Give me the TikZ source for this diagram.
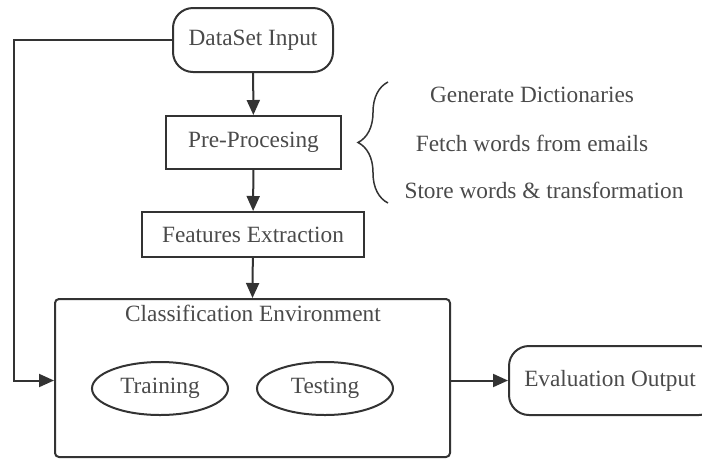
\documentclass[tikz,border=0pt]{standalone}
\usepackage{fontspec}
\setmainfont{Liberation Serif}
\usetikzlibrary{arrows.meta,decorations.pathreplacing,shapes.geometric}
\definecolor{ink}{HTML}{333333}
\definecolor{txt}{HTML}{4A4A4A}
\begin{document}
\begin{tikzpicture}[x=1pt,y=-1pt,
  every node/.style={font=\fontsize{23.3}{27}\selectfont, text=txt, inner sep=0pt},
  frame/.style={draw=ink, line width=2pt},
  terminal/.style={frame, rounded corners=20pt},
  procbox/.style={frame},
  oval/.style={frame, ellipse},
  arr/.style={draw=ink, line width=2pt, -{Triangle[length=15pt,width=13pt]}},
  link/.style={draw=ink, line width=2pt}]
\useasboundingbox (0,0) rectangle (702,459);

% main flow
\node[terminal, minimum width=160pt, minimum height=64pt] (in) at (253,40) {DataSet Input};
\node[procbox, minimum width=175pt, minimum height=53pt] (pre) at (253.5,142.5) {Pre-Procesing};
\node[procbox, minimum width=222pt, minimum height=45pt] (feat) at (253,234.5) {Features Extraction};
\node[frame, rounded corners=4pt, minimum width=395pt, minimum height=158pt] (cls) at (252.5,378) {};
\node (clstitle) at (253,313) {Classification Environment};
\node[oval, minimum width=136pt, minimum height=53pt] (train) at (160,388.5) {Training};
\node[oval, minimum width=136pt, minimum height=53pt] (test) at (325,388.5) {Testing};
\node[terminal, minimum width=210pt, minimum height=69pt] (eval) at (614,380.5) {};
\node (evaltext) at (610,380.5) {Evaluation Output};

% pre-processing steps
\node (s1) at (532,95) {Generate Dictionaries};
\node (s2) at (532,143) {Fetch words from emails};
\node (s3) at (544,190) {Store words \& transformation};
\draw[draw=ink, line width=1.5pt, decorate, decoration={brace, amplitude=30pt, aspect=0.5}]
  (388,203) -- (388,82);

% connectors
\coordinate (bend) at (14,0);
\draw[arr] (in) -- (pre);
\draw[arr] (pre) -- (feat);
\draw[arr] (feat) -- (cls.north);
\draw[arr] (in.west) -- (in.west -| bend) |- (cls.west |- eval.west);
\draw[arr] (cls.east |- eval.west) -- (eval.west);
\end{tikzpicture}
\end{document}
